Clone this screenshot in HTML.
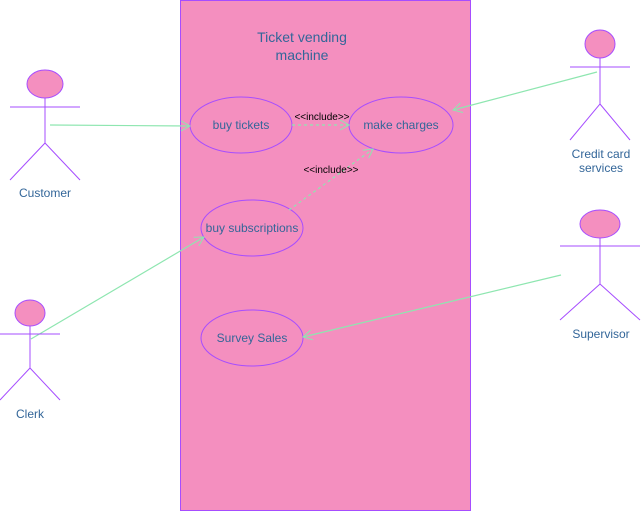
<!DOCTYPE html>
<html><head><style>body{margin:0;background:#fff}</style></head><body>
<svg width="641" height="511" viewBox="0 0 641 511" xmlns="http://www.w3.org/2000/svg" font-family="Liberation Sans, sans-serif">
<defs>
<marker id="a" markerWidth="12" markerHeight="12" refX="10" refY="6" orient="auto" markerUnits="userSpaceOnUse"><path d="M1,1 L10,6 L1,11" fill="none" stroke="#8EE6B0" stroke-width="1"/></marker>
</defs>
<rect x="180.5" y="0.5" width="290" height="510" fill="#F48FBF" stroke="#A64DFF"/>
<text x="302" y="42" font-size="14" fill="#336699" text-anchor="middle">Ticket vending</text>
<text x="302" y="60" font-size="14" fill="#336699" text-anchor="middle">machine</text>
<g fill="#F48FBF" stroke="#A64DFF">
<ellipse cx="241" cy="125" rx="51" ry="28"/>
<ellipse cx="401" cy="125" rx="52" ry="28"/>
<ellipse cx="252" cy="228" rx="51" ry="28"/>
<ellipse cx="252" cy="338" rx="51" ry="28"/>
</g>
<g font-size="12" fill="#336699" text-anchor="middle">
<text x="241" y="129">buy tickets</text>
<text x="401" y="129">make charges</text>
<text x="252" y="232">buy subscriptions</text>
<text x="252" y="342">Survey Sales</text>
<text x="45" y="197">Customer</text>
<text x="601" y="158">Credit card</text>
<text x="601" y="172">services</text>
<text x="601" y="338">Supervisor</text>
<text x="30" y="418">Clerk</text>
</g>
<g stroke="#8EE6B0" stroke-width="1.2" fill="none" marker-end="url(#a)">
<line x1="50" y1="125" x2="190" y2="126"/>
<line x1="597" y1="72" x2="453" y2="110"/>
<line x1="561" y1="275" x2="303" y2="337"/>
<line x1="31" y1="339" x2="204" y2="237"/>
<line x1="292" y1="125" x2="349" y2="125" stroke-dasharray="3,3"/>
<line x1="289" y1="210" x2="373" y2="149" stroke-dasharray="3,3"/>
</g>
<g font-size="10" fill="#000" text-anchor="middle">
<text x="322" y="120">&lt;&lt;include&gt;&gt;</text>
<text x="331" y="173">&lt;&lt;include&gt;&gt;</text>
</g>
<g stroke="#A64DFF" fill="none">
<ellipse cx="45" cy="84" rx="18" ry="14" fill="#F48FBF"/>
<path d="M10,107H80M45,98V143L10,180M45,143L80,180"/>
<ellipse cx="600" cy="44" rx="15" ry="14" fill="#F48FBF"/>
<path d="M570,67H630M600,58V104L570,140M600,104L630,140"/>
<ellipse cx="600" cy="224" rx="20" ry="14" fill="#F48FBF"/>
<path d="M560,246H640M600,238V284L560,320M600,284L640,320"/>
<ellipse cx="30" cy="313" rx="15" ry="13" fill="#F48FBF"/>
<path d="M0,334H60M30,326V368L0,400M30,368L60,400"/>
</g>
</svg>
</body></html>
